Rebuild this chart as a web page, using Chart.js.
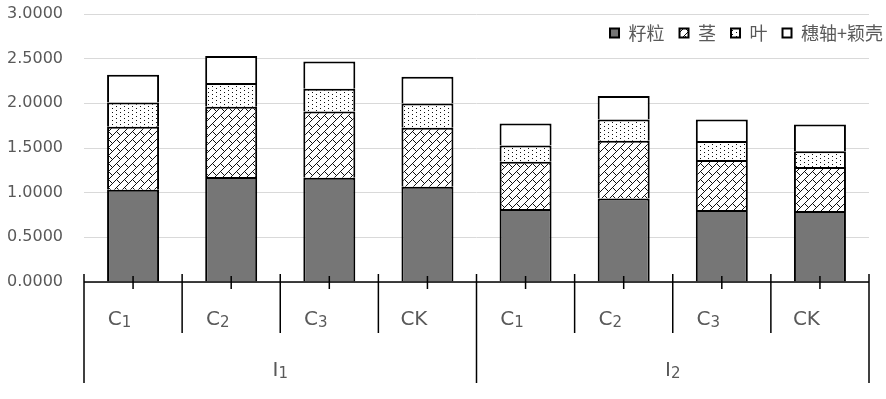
<!DOCTYPE html>
<html>
<head>
<meta charset="utf-8">
<script src="https://cdn.jsdelivr.net/npm/chart.js@4/dist/chart.umd.min.js"></script>
<style>
  html, body { margin: 0; padding: 0; background: #fff; }
  #wrap { width: 886px; height: 399px; position: relative; }
</style>
</head>
<body>
<div id="wrap"><canvas id="chart"></canvas></div>
<script>
// Data
const groups = ['I1', 'I2'];
const treatments = ['C1', 'C2', 'C3', 'CK'];
const seriesNames = ['籽粒', '茎', '叶', '穗轴+颖壳'];
const grain = [1.032, 1.174, 1.167, 1.066, 0.817, 0.936, 0.805, 0.794];
const stem = [0.705, 0.787, 0.742, 0.660, 0.529, 0.645, 0.560, 0.492];
const leaf = [0.273, 0.268, 0.253, 0.272, 0.183, 0.239, 0.212, 0.179];
const cob = [0.309, 0.302, 0.306, 0.299, 0.246, 0.261, 0.243, 0.299];
const yTicks = [0, 0.5, 1, 1.5, 2, 2.5, 3];

const textColor = '#595959';

// small bitmap patterns like the Excel fills
const makePattern = (size, pixels) => {
    const c = document.createElement('canvas');
    c.width = size; c.height = size;
    const g = c.getContext('2d');
    g.fillStyle = '#fff';
    g.fillRect(0, 0, size, size);
    g.fillStyle = '#111';
    pixels.forEach(([x, y]) => g.fillRect(x, y, 1, 1));
    return g.createPattern(c, 'repeat');
};

// diagonal brick: "/" lines with short "\" connectors
const brickPx = [];
for (let r = 0; r < 8; r++) brickPx.push([7 - r, r]);
brickPx.push([5, 4], [6, 5], [7, 6]);
const brickPattern = makePattern(8, brickPx);

// sparse dots
const dotPattern = makePattern(8, [[0, 0], [4, 2], [0, 4], [4, 6]]);

const labels = groups.flatMap(() => treatments);

// draws "C1" as C with a subscript 1
const drawSubText = (ctx, text, cx, baseY, big, small) => {
    const m = text.match(/^(.*?)(\d*)$/);
    const main = m[1], sub = m[2];
    ctx.font = big + 'px "DejaVu Sans"';
    const w1 = ctx.measureText(main).width;
    ctx.font = small + 'px "DejaVu Sans"';
    const w2 = ctx.measureText(sub).width;
    const x0 = cx - (w1 + w2) / 2;
    ctx.textAlign = 'left';
    ctx.textBaseline = 'alphabetic';
    ctx.fillStyle = textColor;
    ctx.font = big + 'px "DejaVu Sans"';
    ctx.fillText(main, x0, baseY);
    ctx.font = small + 'px "DejaVu Sans"';
    ctx.fillText(sub, x0 + w1, baseY + 1.5);
};

// legend in the top right corner, over the plot
const cornerLegend = {
    id: 'cornerLegend',
    afterDraw(chart) {
        const ctx = chart.ctx;
        const box = 9, gap = 9.5, pad = 15;
        const cy = chart.chartArea.top + 19;
        ctx.save();
        ctx.font = '18px "Noto Sans CJK SC"';
        const widths = seriesNames.map(s => box + gap + ctx.measureText(s).width);
        const total = widths.reduce((a, b) => a + b, 0) + pad * (widths.length - 1);
        let x = chart.chartArea.right + 14 - total;
        chart.data.datasets.forEach((ds, i) => {
            ctx.fillStyle = ds.backgroundColor;
            ctx.fillRect(x, cy - box / 2, box, box);
            ctx.strokeStyle = '#000';
            ctx.lineWidth = 2;
            ctx.strokeRect(x, cy - box / 2, box, box);
            ctx.fillStyle = textColor;
            ctx.textAlign = 'left';
            ctx.textBaseline = 'middle';
            ctx.fillText(seriesNames[i], x + box + gap, cy);
            x += widths[i] + pad;
        });
        ctx.restore();
    }
};

// grouped category axis drawn from the x scale
const groupAxis = {
    id: 'groupAxis',
    afterDraw(chart) {
        const ctx = chart.ctx;
        const xs = chart.scales.x;
        const base = chart.chartArea.bottom;
        const n = labels.length;
        ctx.save();
        ctx.strokeStyle = '#000';
        ctx.lineWidth = 1.5;
        ctx.beginPath();
        ctx.moveTo(xs.getPixelForValue(-0.5), base);
        ctx.lineTo(xs.getPixelForValue(n - 0.5), base);
        ctx.stroke();
        for (let i = 0; i < n; i++) {
            const c = xs.getPixelForValue(i);
            ctx.beginPath();
            ctx.moveTo(c, base - 6);
            ctx.lineTo(c, base + 7);
            ctx.stroke();
        }
        for (let i = 0; i <= n; i++) {
            const b = xs.getPixelForValue(i - 0.5);
            const isGroup = i % treatments.length === 0;
            ctx.beginPath();
            ctx.moveTo(b, base - 8);
            ctx.lineTo(b, base + (isGroup ? 101 : 51));
            ctx.stroke();
        }
        labels.forEach((lab, i) => {
            drawSubText(ctx, lab, xs.getPixelForValue(i) - 13.5, base + 43, 20, 15);
        });
        groups.forEach((g, gi) => {
            const first = gi * treatments.length;
            const last = first + treatments.length - 1;
            const mid = (xs.getPixelForValue(first - 0.5) + xs.getPixelForValue(last + 0.5)) / 2;
            drawSubText(ctx, g, mid, base + 94, 20, 15);
        });
        ctx.restore();
    }
};

const barStyle = { borderColor: '#000', borderWidth: 2, barPercentage: 0.53, categoryPercentage: 1 };

new Chart(document.getElementById('chart'), {
    type: 'bar',
    data: {
        labels: labels,
        datasets: [
            { label: seriesNames[0], data: grain, backgroundColor: '#767676', ...barStyle },
            { label: seriesNames[1], data: stem, backgroundColor: brickPattern, ...barStyle },
            { label: seriesNames[2], data: leaf, backgroundColor: dotPattern, ...barStyle },
            { label: seriesNames[3], data: cob, backgroundColor: '#fff', ...barStyle }
        ]
    },
    options: {
        responsive: true,
        maintainAspectRatio: false,
        animation: false,
        devicePixelRatio: 1,
        layout: { padding: { top: 0, right: 17, left: 0, bottom: 0 } },
        plugins: {
            tooltip: { enabled: false },
            legend: { display: false }
        },
        scales: {
            x: {
                stacked: true,
                grid: { display: false },
                border: { display: false },
                ticks: { display: false },
                afterFit: (s) => { s.height = 117; }
            },
            y: {
                stacked: true,
                min: yTicks[0],
                max: yTicks[yTicks.length - 1],
                afterBuildTicks: (s) => { s.ticks = yTicks.map(v => ({ value: v })); },
                grid: { color: '#d9d9d9', lineWidth: 1, drawTicks: false },
                border: { display: false },
                ticks: {
                    padding: 21,
                    color: textColor,
                    font: { size: 16, family: '"DejaVu Sans"' },
                    callback: (v) => Number(v).toFixed(4)
                },
                afterFit: (s) => { s.width = 84; s.paddingTop = 14; }
            }
        }
    },
    plugins: [groupAxis, cornerLegend]
});
</script>
</body>
</html>
